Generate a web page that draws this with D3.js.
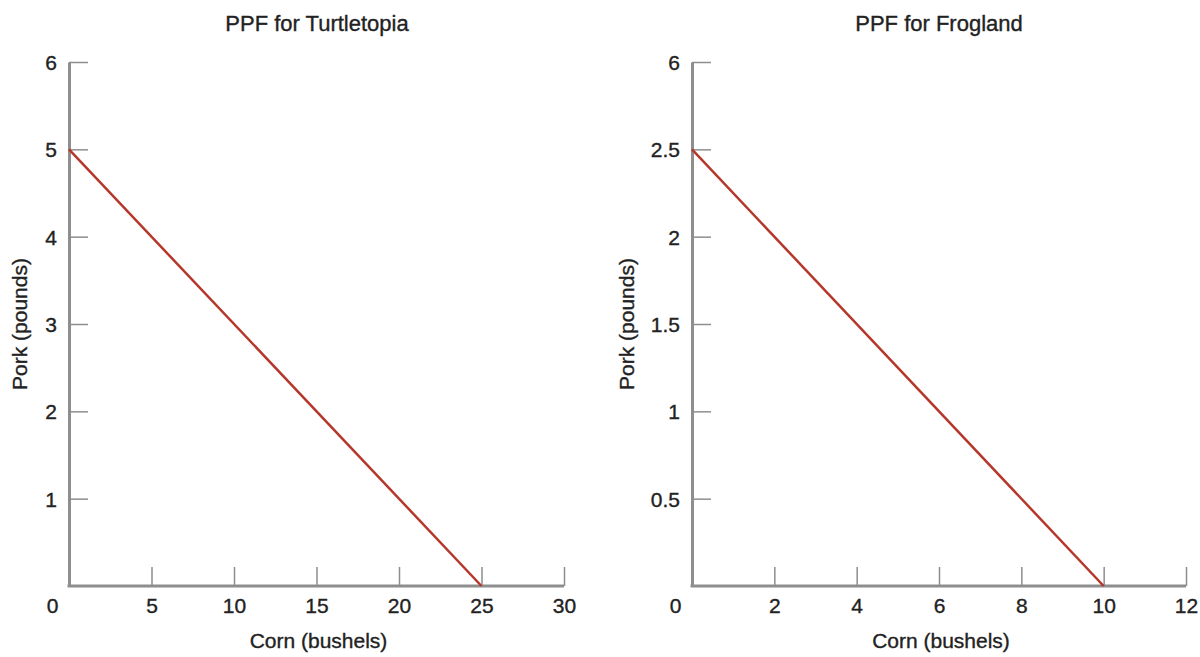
<!DOCTYPE html>
<html>
<head>
<meta charset="utf-8">
<script src="https://cdn.jsdelivr.net/npm/d3@7"></script>
<style>
  body { margin: 0; background: #fff; }
  svg text { font-family: "Liberation Sans", Arial, sans-serif; fill: #222; stroke: #222; stroke-width: 0.35px; }
</style>
</head>
<body>
<svg id="chart" width="1200" height="657"></svg>
<script>
// ---- data ----
const titles = ["PPF for Turtletopia", "PPF for Frogland"];
const xTitle = "Corn (bushels)";
const yTitle = "Pork (pounds)";

const leftXTicks = [0, 5, 10, 15, 20, 25, 30];
const leftYTicks = [1, 2, 3, 4, 5, 6];
const leftYLabels = ["1", "2", "3", "4", "5", "6"];
const leftLine = [{corn: 0, pork: 5}, {corn: 25, pork: 0}];

const rightXTicks = [0, 2, 4, 6, 8, 10, 12];
const rightYTicks = [0.5, 1, 1.5, 2, 2.5, 3];
const rightYLabels = ["0.5", "1", "1.5", "2", "2.5", "6"];
const rightLine = [{corn: 0, pork: 2.5}, {corn: 10, pork: 0}];

const panels = [
  {title: titles[0], xDomain: [0, 30], yDomain: [0, 6], xTicks: leftXTicks, yTicks: leftYTicks, yLabels: leftYLabels, line: leftLine,
   x0: 69, x1: 564, yTitleX: 20, titleX: 317},
  {title: titles[1], xDomain: [0, 12], yDomain: [0, 3], xTicks: rightXTicks, yTicks: rightYTicks, yLabels: rightYLabels, line: rightLine,
   x0: 692, x1: 1186, yTitleX: 627, titleX: 939}
];

const svg = d3.select("#chart");
const yTop = 62, yBot = 586;
const axisColor = "#8e8e8e";
const fs = "21px";

panels.forEach(p => {
  const x = d3.scaleLinear().domain(p.xDomain).range([p.x0, p.x1]);
  const y = d3.scaleLinear().domain(p.yDomain).range([yBot, yTop]);
  const g = svg.append("g");

  // title
  g.append("text").attr("x", p.titleX).attr("y", 31).attr("text-anchor", "middle")
    .style("font-size", "22px").text(p.title);

  // y axis
  const yAxis = d3.axisLeft(y).tickValues(p.yTicks)
    .tickFormat((d, i) => p.yLabels[i])
    .tickSizeInner(-19).tickSizeOuter(0).tickPadding(12);
  const ya = g.append("g").attr("transform", `translate(${p.x0},0)`).call(yAxis);
  ya.select(".domain").attr("stroke", axisColor).attr("stroke-width", 3);
  ya.selectAll(".tick line").attr("stroke", axisColor).attr("stroke-width", 1.5);
  ya.selectAll(".tick text").style("font-size", fs).attr("fill", "#222").attr("dy", "0.35em");

  // x axis
  const xAxis = d3.axisBottom(x).tickValues(p.xTicks)
    .tickSizeInner(-19).tickSizeOuter(0).tickPadding(12);
  const xa = g.append("g").attr("transform", `translate(0,${yBot})`).call(xAxis);
  xa.select(".domain").attr("stroke", axisColor).attr("stroke-width", 3)
    .attr("d", `M${p.x0 - 1.5},0H${p.x1}`);
  xa.selectAll(".tick line").attr("stroke", axisColor).attr("stroke-width", 1.5);
  xa.selectAll(".tick text").style("font-size", fs).attr("fill", "#222")
    .attr("y", 27).attr("dy", 0);
  xa.selectAll(".tick").filter(d => d === 0).each(function() {
    d3.select(this).select("line").remove();
    d3.select(this).select("text").attr("x", -17);
  });

  // axis titles
  g.append("text").attr("x", (p.x0 + p.x1) / 2 + 2).attr("y", 648).attr("text-anchor", "middle")
    .style("font-size", fs).text(xTitle);
  g.append("text").attr("transform", `translate(${p.yTitleX},${(yTop + yBot) / 2}) rotate(-90)`)
    .attr("text-anchor", "middle").attr("dy", "0.35em")
    .style("font-size", fs).text(yTitle);

  // PPF line
  const line = d3.line().x(d => x(d.corn)).y(d => y(d.pork));
  g.append("path").datum(p.line).attr("d", line)
    .attr("fill", "none").attr("stroke", "#b5372b").attr("stroke-width", 2.5);
});
</script>
</body>
</html>
